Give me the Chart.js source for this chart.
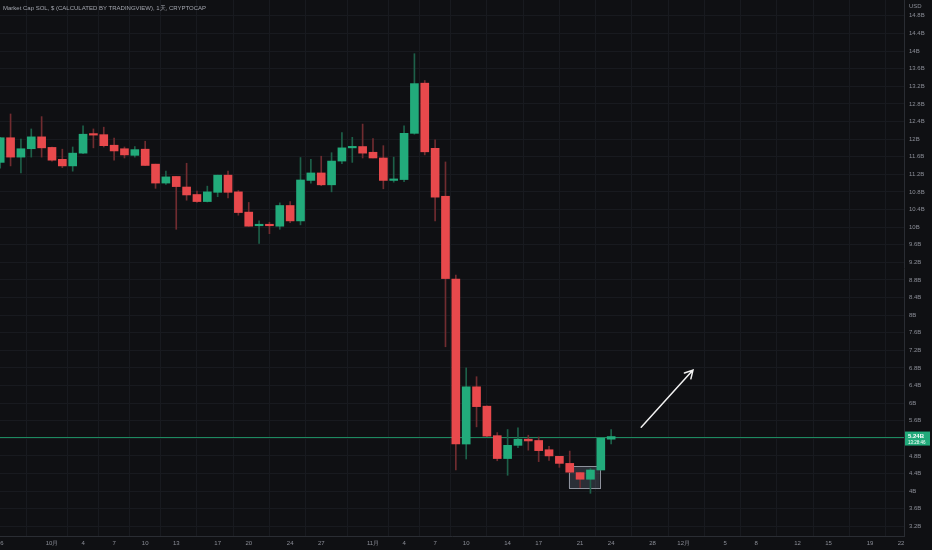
<!DOCTYPE html>
<html>
<head>
<meta charset="utf-8">
<script src="https://cdn.jsdelivr.net/npm/chart.js@4.4.1/dist/chart.umd.min.js"></script>
<style>
html,body{margin:0;padding:0;background:#0f1013;}
#wrap{width:932px;height:550px;}
</style>
</head>
<body>
<div id="wrap"><canvas id="c" width="932" height="550"></canvas></div>
<script>
// daily candles, market cap in billions USD
const dates = ['9/26','9/27','9/28','9/29','9/30','10/1','10/2','10/3','10/4','10/5',
  '10/6','10/7','10/8','10/9','10/10','10/11','10/12','10/13','10/14','10/15',
  '10/16','10/17','10/18','10/19','10/20','10/21','10/22','10/23','10/24','10/25',
  '10/26','10/27','10/28','10/29','10/30','10/31','11/1','11/2','11/3','11/4',
  '11/5','11/6','11/7','11/8','11/9','11/10','11/11','11/12','11/13','11/14',
  '11/15','11/16','11/17','11/18','11/19','11/20','11/21','11/22','11/23','11/24'];
const open  = [11.47,12.03,11.59,11.78,12.05,11.81,11.54,11.39,11.68,12.11,
  12.10,11.86,11.78,11.63,11.77,11.43,11.00,11.15,10.91,10.74,
  10.58,10.79,11.18,10.80,10.34,10.03,10.06,10.02,10.49,10.14,
  11.06,11.23,10.96,11.50,11.80,11.83,11.70,11.57,11.06,11.08,
  12.13,13.27,11.79,10.70,8.82,5.07,6.37,5.93,5.26,4.74,
  5.04,5.18,5.15,4.94,4.79,4.63,4.42,4.27,4.48,5.18];
const high  = [12.04,12.57,12.00,12.23,12.51,11.82,11.77,11.82,12.30,12.23,
  12.27,12.02,11.82,11.83,11.95,11.43,11.27,11.15,11.45,10.82,
  10.93,11.18,11.27,10.83,10.56,10.14,10.11,10.55,10.58,11.58,
  11.54,11.61,11.69,12.15,12.04,12.34,12.01,11.85,11.59,12.30,
  13.94,13.33,11.98,11.48,8.91,6.80,6.60,5.94,5.33,5.40,
  5.44,5.27,5.23,5.02,4.79,4.91,4.42,4.52,5.20,5.40];
const low   = [11.34,11.39,11.23,11.59,11.59,11.50,11.35,11.27,11.67,11.80,
  11.82,11.52,11.57,11.59,11.40,10.88,10.97,9.95,10.61,10.56,
  10.57,10.69,10.66,10.27,10.02,9.63,9.85,9.95,10.10,10.05,
  11.00,10.94,10.80,11.44,11.47,11.57,11.57,10.87,11.02,11.03,
  12.11,11.64,10.14,7.28,4.48,4.73,5.46,5.24,4.69,4.36,
  4.99,4.93,4.67,4.70,4.54,4.42,4.08,3.95,4.48,5.07];
const close = [12.03,11.59,11.78,12.05,11.80,11.52,11.39,11.68,12.11,12.09,
  11.85,11.73,11.64,11.76,11.40,11.00,11.14,10.92,10.73,10.58,
  10.80,11.18,10.79,10.33,10.02,10.06,10.03,10.49,10.14,11.07,
  11.23,10.96,11.50,11.80,11.83,11.68,11.57,11.06,11.09,12.13,
  13.26,11.71,10.68,8.83,5.07,6.37,5.92,5.25,4.74,5.04,
  5.18,5.14,4.92,4.80,4.63,4.43,4.27,4.48,5.20,5.24];

// x ticks: day index counted from 9/26
const tickDays = [0,5,8,11,14,17,21,24,28,31,36,39,42,45,49,52,56,59,63,66,70,73,77,80,84,87];
const tickLabels = ['26','10月','4','7','10','13','17','20','24','27','11月','4','7','10','14','17','21','24','28','12月','5','8','12','15','19','22'];

const lastPrice = 5.24;
const arrowFrom = [61.9, 5.45];
const arrowTo = [66.9, 6.75];
const boxFrom = [54.9, 4.57];
const boxTo = [57.9, 4.07];

const UP = '#22ab7b', DOWN = '#e8494c';
const UP_WICK = '#1d6049', DOWN_WICK = '#702c30';
const FONT = 'Liberation Sans';

const isUp = dates.map((d, i) => close[i] >= open[i]);

// extra drawings: title, price line, price tag, arrow and box
const overlay = {
  id: 'overlay',
  beforeDatasetsDraw(chart) {
    const {ctx, chartArea, scales} = chart;
    const py = Math.round(scales.y.getPixelForValue(lastPrice)) + 0.5;
    ctx.save();
    ctx.strokeStyle = '#1d8a60';
    ctx.lineWidth = 1;
    ctx.beginPath();
    ctx.moveTo(chartArea.left, py);
    ctx.lineTo(chartArea.right, py);
    ctx.stroke();
    // box around the last red/green pair
    const bx1 = scales.x.getPixelForValue(boxFrom[0]), by1 = scales.y.getPixelForValue(boxFrom[1]);
    const bx2 = scales.x.getPixelForValue(boxTo[0]), by2 = scales.y.getPixelForValue(boxTo[1]);
    ctx.fillStyle = 'rgba(120,128,150,0.28)';
    ctx.fillRect(bx1, by1, bx2 - bx1, by2 - by1);
    ctx.strokeStyle = '#8e929c';
    ctx.strokeRect(Math.round(bx1) + 0.5, Math.round(by1) + 0.5, Math.round(bx2 - bx1), Math.round(by2 - by1));
    ctx.restore();
  },
  afterDraw(chart) {
    const {ctx, chartArea, scales} = chart;
    ctx.save();
    ctx.fillStyle = '#a3a6af';
    ctx.font = '6px "' + FONT + '"';
    ctx.textBaseline = 'middle';
    ctx.fillText('Market Cap SOL, $ (CALCULATED BY TRADINGVIEW), 1天, CRYPTOCAP', 3, 8);
    ctx.fillStyle = '#8b8e97';
    ctx.fillText('USD', chartArea.right + 5, 6);

    // price tag on the axis
    const py = scales.y.getPixelForValue(lastPrice);
    ctx.fillStyle = UP;
    ctx.fillRect(chartArea.right + 1, py - 5, 25, 14);
    ctx.fillStyle = '#ffffff';
    ctx.font = 'bold 6px "' + FONT + '"';
    ctx.fillText(lastPrice.toFixed(2) + 'B', chartArea.right + 4, py);
    ctx.font = '4.5px "' + FONT + '"';
    ctx.fillText('13:28:46', chartArea.right + 4, py + 6);

    // arrow
    const x1 = scales.x.getPixelForValue(arrowFrom[0]), y1 = scales.y.getPixelForValue(arrowFrom[1]);
    const x2 = scales.x.getPixelForValue(arrowTo[0]), y2 = scales.y.getPixelForValue(arrowTo[1]);
    const a = Math.atan2(y2 - y1, x2 - x1);
    ctx.strokeStyle = '#f2f2f2';
    ctx.lineWidth = 1.5;
    ctx.lineCap = 'round';
    ctx.beginPath();
    ctx.moveTo(x1, y1);
    ctx.lineTo(x2, y2);
    ctx.moveTo(x2 - 9 * Math.cos(a - 0.5), y2 - 9 * Math.sin(a - 0.5));
    ctx.lineTo(x2, y2);
    ctx.lineTo(x2 - 9 * Math.cos(a + 0.5), y2 - 9 * Math.sin(a + 0.5));
    ctx.stroke();
    ctx.restore();
  }
};

new Chart(document.getElementById('c'), {
  type: 'bar',
  data: {
    datasets: [
      {
        label: 'wick',
        data: dates.map((d, i) => ({x: i, y: [low[i], high[i]]})),
        backgroundColor: isUp.map(u => u ? UP_WICK : DOWN_WICK),
        barThickness: 1,
        grouped: false,
        order: 2
      },
      {
        label: 'body',
        data: dates.map((d, i) => ({x: i, y: [open[i], close[i]]})),
        backgroundColor: isUp.map(u => u ? UP : DOWN),
        barThickness: 8,
        minBarLength: 1.5,
        grouped: false,
        order: 1
      }
    ]
  },
  options: {
    responsive: false,
    animation: false,
    layout: {padding: 0},
    plugins: {legend: {display: false}, tooltip: {enabled: false}},
    scales: {
      x: {
        type: 'linear',
        min: -0.02,
        max: 87.28,
        offset: false,
        afterBuildTicks: s => { s.ticks = tickDays.map(v => ({value: v})); },
        afterFit: s => { s.height = 14; s.paddingLeft = 0; s.paddingRight = 0; },
        ticks: {
          autoSkip: false, maxRotation: 0, padding: 4,
          color: '#8b8e97', font: {size: 6, family: FONT},
          callback: v => tickLabels[tickDays.indexOf(v)]
        },
        grid: {color: '#181a1f', drawTicks: false},
        border: {color: '#2a2d33'}
      },
      y: {
        position: 'right',
        min: 2.98,
        max: 15.16,
        afterFit: s => { s.width = 28; s.paddingTop = 0; s.paddingBottom = 0; },
        ticks: {
          stepSize: 0.4, includeBounds: false, padding: 5,
          color: '#8b8e97', font: {size: 6, family: FONT},
          callback: v => {
            const r = Math.round(v * 10) / 10;
            return (r % 1 === 0 ? String(r) : r.toFixed(1)) + 'B';
          }
        },
        grid: {color: '#181a1f', drawTicks: false},
        border: {color: '#2a2d33'}
      }
    }
  },
  plugins: [overlay]
});
</script>
</body>
</html>
